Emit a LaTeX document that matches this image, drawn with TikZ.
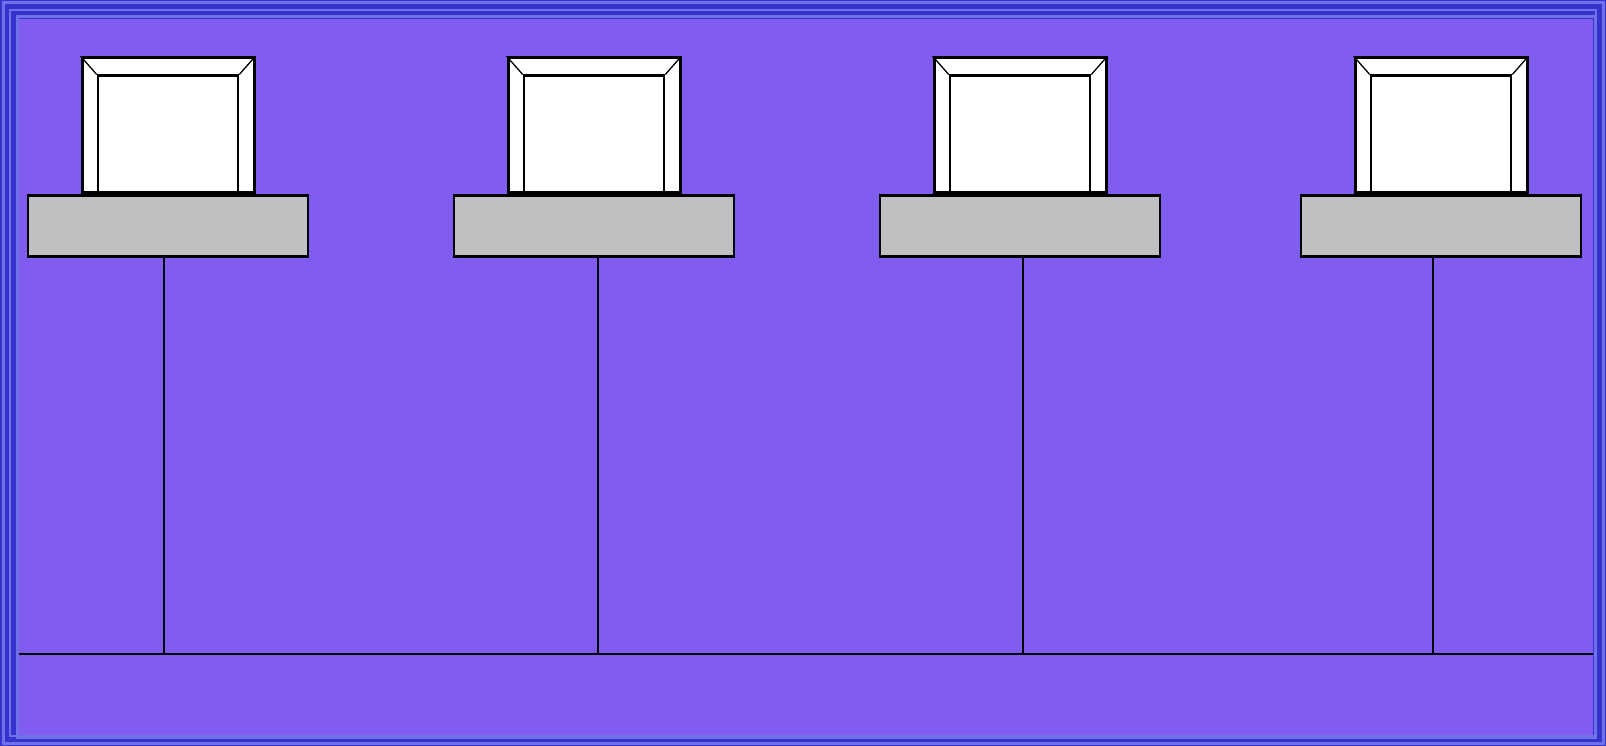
\documentclass[tikz,border=0pt]{standalone}
\usepackage{tikz}
\usetikzlibrary{positioning}

\definecolor{framedark}{RGB}{52,52,204}
\definecolor{framelight}{RGB}{112,112,232}
\definecolor{panel}{RGB}{128,92,240}
\definecolor{deskgray}{RGB}{192,192,192}

\begin{document}
\begin{tikzpicture}[x=1pt, y=-1pt,
  desk/.style={rectangle, draw, fill=deskgray, line width=2.8pt, minimum width=280pt, minimum height=61pt, inner sep=0pt},
  monitor/.style={rectangle, draw, fill=white, line width=3pt, minimum width=172pt, minimum height=135pt, inner sep=0pt},
  screen/.style={rectangle, draw, fill=white, line width=2.6pt, minimum width=140pt, minimum height=117pt, inner sep=0pt},
  bevel/.style={line width=1.3pt},
  wire/.style={line width=2.8pt}
]
\useasboundingbox (0,0) rectangle (1606,746);
% frame and panel
\fill[framedark] (0,0) rectangle (1606,746);
\draw[framelight, line width=3pt] (3,3) rectangle (1603,743);
\draw[framelight, line width=2pt] (10,10) rectangle (1596,736);
\draw[framelight, line width=3pt] (17,17) rectangle (1595,737);
\fill[panel] (19,19) rectangle (1593,735);

% desks
\node[desk] (b1) at (168,226) {};
\node[desk] (b2) at (594,226) {};
\node[desk] (b3) at (1020,226) {};
\node[desk] (b4) at (1441,226) {};

% monitors
\node[monitor, above=0pt of b1] (mon1) {};
\node[screen, above=0pt of b1] (scr1) {};
\node[monitor, above=0pt of b2] (mon2) {};
\node[screen, above=0pt of b2] (scr2) {};
\node[monitor, above=0pt of b3] (mon3) {};
\node[screen, above=0pt of b3] (scr3) {};
\node[monitor, above=0pt of b4] (mon4) {};
\node[screen, above=0pt of b4] (scr4) {};
\draw[bevel] (mon1.north west) -- (scr1.north west) (mon1.north east) -- (scr1.north east);
\draw[bevel] (mon2.north west) -- (scr2.north west) (mon2.north east) -- (scr2.north east);
\draw[bevel] (mon3.north west) -- (scr3.north west) (mon3.north east) -- (scr3.north east);
\draw[bevel] (mon4.north west) -- (scr4.north west) (mon4.north east) -- (scr4.north east);

% bus
\coordinate (busL) at (19,654);
\coordinate (busR) at (1593,654);
\draw[wire] (busL) -- (busR);
\draw[wire] ([xshift=-4pt]b1.south) -- ([xshift=-4pt]b1.south |- busL);
\draw[wire] ([xshift=4pt]b2.south) -- ([xshift=4pt]b2.south |- busL);
\draw[wire] ([xshift=3pt]b3.south) -- ([xshift=3pt]b3.south |- busL);
\draw[wire] ([xshift=-8pt]b4.south) -- ([xshift=-8pt]b4.south |- busL);
\end{tikzpicture}
\end{document}
